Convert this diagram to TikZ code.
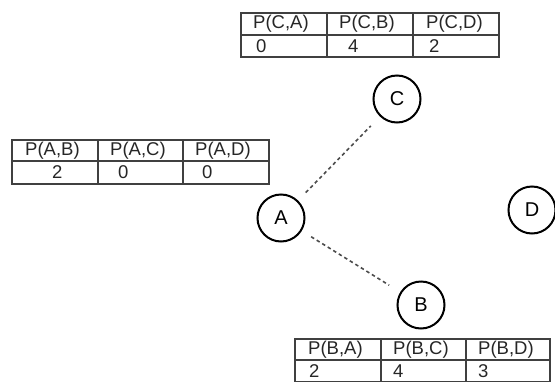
\documentclass[tikz,border=0pt]{standalone}
\usepackage{fontspec}
\setmainfont{Liberation Sans}
\begin{document}
\begin{tikzpicture}[x=1pt,y=-1pt,
  vertex/.style={circle,draw=black,line width=2pt,minimum size=47pt,inner sep=0pt,font=\fontsize{20}{20}\selectfont},
  grid/.style={draw=black!75,line width=1.3pt},
  cell/.style={anchor=west,inner sep=0pt,font=\fontsize{18.5}{18.5}\selectfont,text=black!85},
  link/.style={draw=black!70,line width=1.6pt,dash pattern=on 3.5pt off 3pt,shorten <=11pt,shorten >=13pt}]
\useasboundingbox (0,0) rectangle (555,381);
% nodes
\node[vertex] (A) at (281,218) {A};
\node[vertex] (C) at (397,99) {C};
\node[vertex] (B) at (421,305) {B};
\node[vertex] (D) at (532,210) {D};
\draw[link] (A) -- (C);
\draw[link] (A) -- (B);
% table A
\draw[grid] (12,140) rectangle (269,184);
\draw[grid] (12,161) -- (269,161) (98,140) -- (98,184) (183,140) -- (183,184);
\node[cell] (ah1) at (25,150.5) {P(A,B)};
\node[cell] (ah2) at (110,150.5) {P(A,C)};
\node[cell] (ah3) at (195,150.5) {P(A,D)};
\node[cell] (av1) at (52,172.5) {2};
\node[cell] (av2) at (118,172.5) {0};
\node[cell] (av3) at (202,172.5) {0};
% table C
\draw[grid] (241,13) rectangle (499,57);
\draw[grid] (241,35) -- (499,35) (327,13) -- (327,57) (413,13) -- (413,57);
\node[cell] (ch1) at (253,24) {P(C,A)};
\node[cell] (ch2) at (339,24) {P(C,B)};
\node[cell] (ch3) at (426,24) {P(C,D)};
\node[cell] (cv1) at (256,46) {0};
\node[cell] (cv2) at (348,46) {4};
\node[cell] (cv3) at (429,46) {2};
% table B
\draw[grid] (295,339) rectangle (550,382);
\draw[grid] (295,360) -- (550,360) (381,339) -- (381,382) (466,339) -- (466,382);
\node[cell] (bh1) at (308,349.5) {P(B,A)};
\node[cell] (bh2) at (393,349.5) {P(B,C)};
\node[cell] (bh3) at (478,349.5) {P(B,D)};
\node[cell] (bv1) at (309,371) {2};
\node[cell] (bv2) at (393,371) {4};
\node[cell] (bv3) at (478,371) {3};
\end{tikzpicture}
\end{document}
